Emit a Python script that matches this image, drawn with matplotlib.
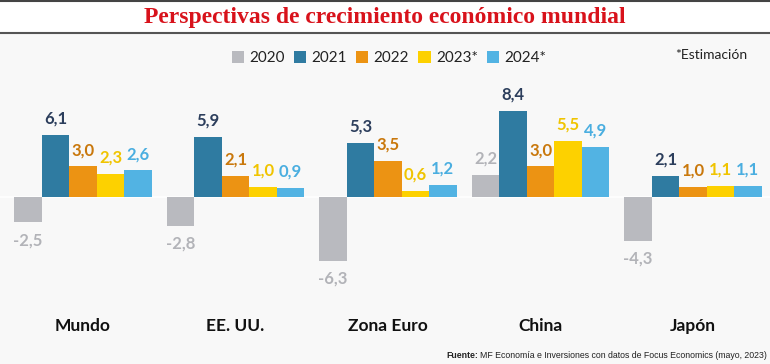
import numpy as np
import matplotlib
matplotlib.use("Agg")
import matplotlib.pyplot as plt
from matplotlib.patches import Rectangle, Patch
from matplotlib.lines import Line2D

plt.rcParams['font.family'] = ['Lato', 'DejaVu Sans']

# data
regiones = ["Mundo", "EE. UU.", "Zona Euro", "China", "Japón"]
anios = ["2020", "2021", "2022", "2023*", "2024*"]
v2020 = [-2.5, -2.8, -6.3, 2.2, -4.3]
v2021 = [6.1, 5.9, 5.3, 8.4, 2.1]
v2022 = [3.0, 2.1, 3.5, 3.0, 1.0]
v2023 = [2.3, 1.0, 0.6, 5.5, 1.1]
v2024 = [2.6, 0.9, 1.2, 4.9, 1.1]
series = [v2020, v2021, v2022, v2023, v2024]

bar_colors = ['#b9babf', '#2f7ba1', '#ec9313', '#fdd100', '#52b3e3']
lbl_colors = ['#b2b3b8', '#2c3e5c', '#c9780c', '#f0c400', '#4aaee0']

fig = plt.figure(figsize=(7.7, 3.64), dpi=100)
fig.patch.set_facecolor('#f8f8f8')

# title band
H = 364.0
fig.patches.append(Rectangle((0, 1 - 33 / H), 1, 33 / H, transform=fig.transFigure,
                             facecolor='white', edgecolor='none', zorder=0))
fig.add_artist(Line2D([0, 1], [1 - 1 / H, 1 - 1 / H], transform=fig.transFigure,
                      color='#444444', lw=1.5))
fig.add_artist(Line2D([0, 1], [1 - 33 / H, 1 - 33 / H], transform=fig.transFigure,
                      color='#555555', lw=1.5))
fig.text(0.5, 1 - 17 / H, "Perspectivas de crecimiento económico mundial",
         ha='center', va='center', color='#d8121b', fontsize=17, fontweight='bold',
         family=['Liberation Serif', 'DejaVu Serif'])

ax = fig.add_axes([0, (H - 345) / H, 1, (345 - 40) / H])
ax.set_facecolor('none')
for s in ax.spines.values():
    s.set_visible(False)
ax.set_xticks([])
ax.set_yticks([])

x = np.arange(len(regiones))
w = 0.18
ax.axhline(0, color='white', lw=1.2, zorder=1)
for i, vals in enumerate(series):
    xs = x + (i - 2) * w
    ax.bar(xs, vals, width=w, color=bar_colors[i], zorder=2)
    for xi, v in zip(xs, vals):
        txt = ("%.1f" % v).replace('.', ',')
        if v >= 0:
            ax.annotate(txt, (xi, v), xytext=(0, 6), textcoords='offset points',
                        ha='center', va='bottom', fontsize=12, fontweight='bold',
                        color=lbl_colors[i])
        else:
            ax.annotate(txt, (xi, v), xytext=(0, -7), textcoords='offset points',
                        ha='center', va='top', fontsize=12, fontweight='bold',
                        color=lbl_colors[i])

for xi, r in zip(x, regiones):
    ax.text(xi, -12.65, r, ha='center', va='center', fontsize=12.5,
            fontweight='bold', color='#111111')

ax.set_xlim(-83 / 152.5, (770 - 83) / 152.5)
ax.set_ylim(-(345 - 197) / 10.2, (197 - 40) / 10.2)

handles = [Patch(facecolor=c, edgecolor='none') for c in bar_colors]
fig.legend(handles, anios, loc='center', bbox_to_anchor=(389 / 770, 1 - 58 / H),
           ncol=5, frameon=False, fontsize=11, handlelength=0.8, handleheight=0.8,
           handletextpad=0.35, columnspacing=0.6, labelcolor='#222222')

fig.text(747 / 770, 1 - 55 / H, "*Estimación", ha='right', va='center',
         fontsize=10, color='#222222')

fuente_fam = ['Liberation Sans Narrow', 'Liberation Sans', 'DejaVu Sans']
t = fig.text(767 / 770, 1 - 355 / H,
             "MF Economía e Inversiones con datos de Focus Economics (mayo, 2023)",
             ha='right', va='center', fontsize=6.3, color='#222222', family=fuente_fam)
fig.canvas.draw()
bb = t.get_window_extent()
fig.text(bb.x0 / 770 - 0.003, 1 - 355 / H, "Fuente:", ha='right', va='center',
         fontsize=6.3, fontweight='bold', color='#222222', family=fuente_fam)

fig.savefig("out.png", dpi=100, facecolor=fig.get_facecolor())
